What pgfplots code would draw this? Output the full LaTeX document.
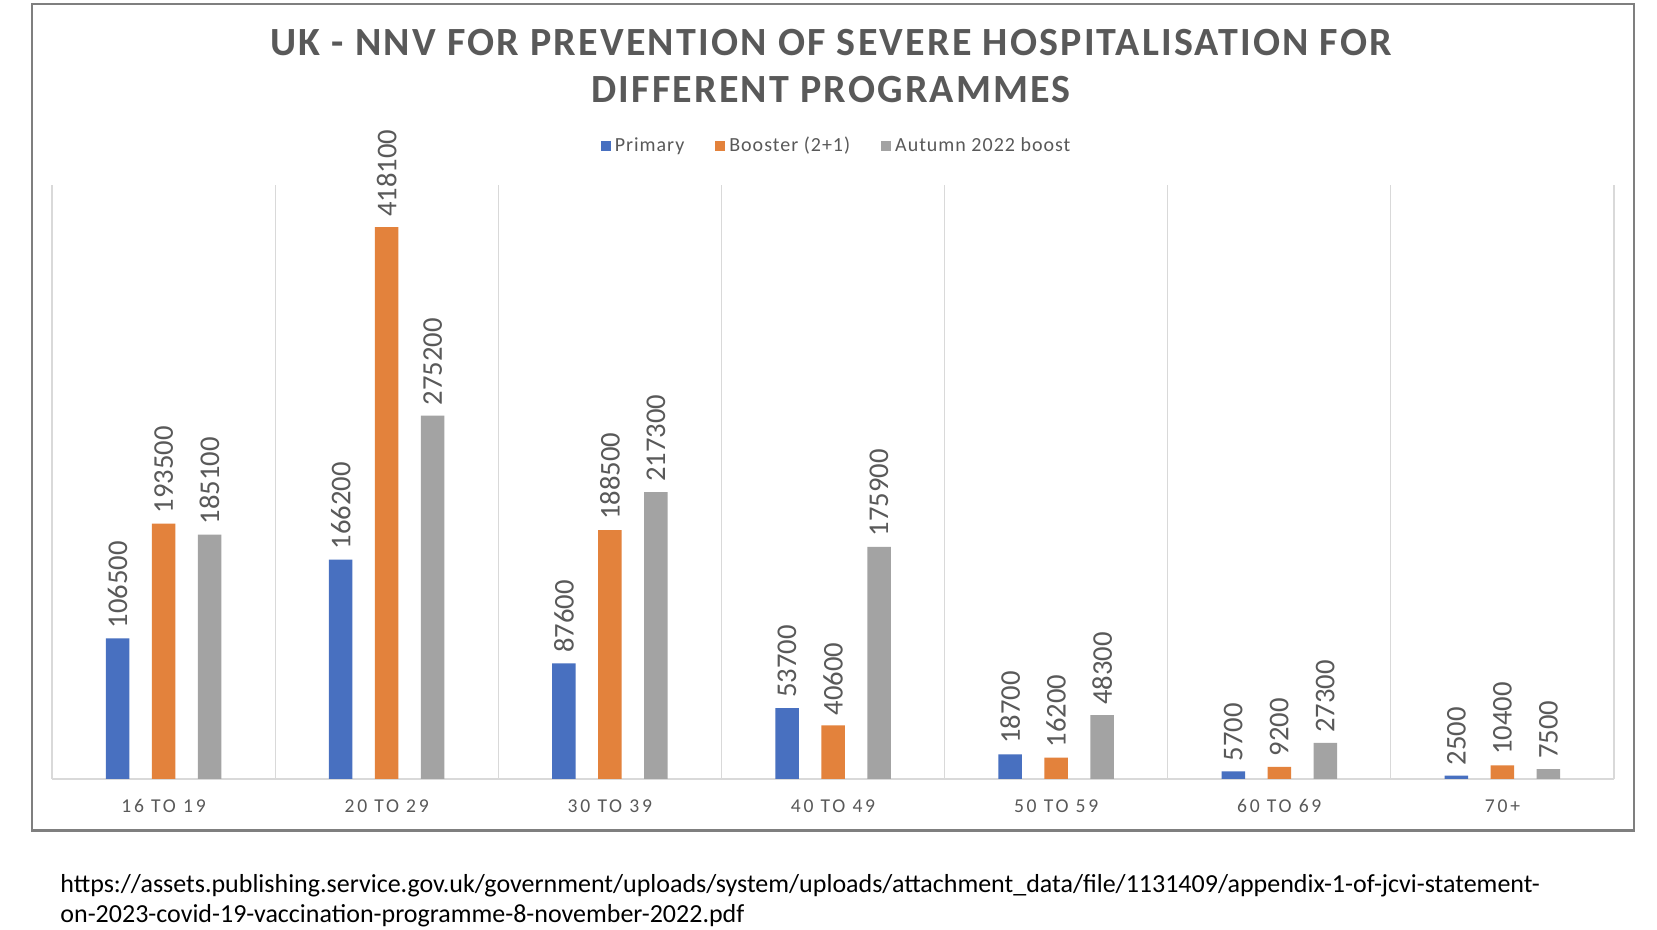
\documentclass[border=0pt]{standalone}
\usepackage{fontspec}
\setmainfont{Carlito}
\usepackage{pgfplots}
\usepackage{pgfplotstable}
\pgfplotsset{compat=1.18}
\newfontfamily\titlefont[LetterSpace=5.5]{Carlito}
\newfontfamily\tickfont[LetterSpace=14]{Carlito}
\newfontfamily\legfont[LetterSpace=5]{Carlito}
\definecolor{cblue}{HTML}{4870C0}
\definecolor{corange}{HTML}{E3823C}
\definecolor{cgray}{HTML}{A3A3A3}
\definecolor{txt}{HTML}{595959}
\definecolor{gridc}{HTML}{D9D9D9}
\definecolor{framec}{HTML}{7F7F7F}

\pgfplotstableread{
x P B A
0 106500 193500 185100
1 166200 418100 275200
2 87600 188500 217300
3 53700 40600 175900
4 18700 16200 48300
5 5700 9200 27300
6 2500 10400 7500
}\data

\begin{document}
\begin{tikzpicture}
\path[use as bounding box] (0,0) rectangle (828.5pt,465pt);
\fill[white] (0,0) rectangle (828.5pt,465pt);
\draw[line width=1.1pt, framec] (16pt,49.75pt) rectangle (817pt,463pt);
\node[font=\titlefont\bfseries\fontsize{20}{24}\selectfont, text=txt] at (415.5pt,443.9pt) {UK - NNV FOR PREVENTION OF SEVERE HOSPITALISATION FOR};
\node[font=\titlefont\bfseries\fontsize{20}{24}\selectfont, text=txt] at (415.5pt,420.1pt) {DIFFERENT PROGRAMMES};
\begin{axis}[
  at={(26pt,75.5pt)}, anchor=south west,
  scale only axis, width=781pt, height=297pt,
  xmin=-0.5, xmax=6.5, ymin=0, ymax=450000,
  ybar=11.25pt, bar width=11.75pt,
  axis y line=none, axis x line*=bottom,
  x axis line style={draw=gridc, line width=0.8pt, -},
  xtick={0,...,6},
  xticklabels={16 TO 19,20 TO 29,30 TO 39,40 TO 49,50 TO 59,60 TO 69,70+},
  major tick length=0pt, minor tick length=0pt,
  minor xtick={-0.5,0.5,1.5,2.5,3.5,4.5,5.5,6.5},
  xminorgrids, minor grid style={draw=gridc, line width=0.6pt},
  xticklabel style={font=\tickfont\fontsize{9.8}{11}\selectfont, text=txt, anchor=center, yshift=-13.5pt},
  clip=false,
  nodes near coords, point meta=explicit symbolic,
  every node near coord/.append style={rotate=90, anchor=west, font=\fontsize{14.3}{16}\selectfont, text=txt, inner sep=5pt},
  legend style={at={(0.5,1.0655)}, anchor=center, xshift=2.3pt, draw=none, fill=none,
    legend columns=-1, font=\legfont\fontsize{10}{12}\selectfont, text=txt,
    /tikz/every even column/.append style={column sep=13.5pt},
    legend cell align=left},
  legend image code/.code={\fill[#1] (-2pt,-2.5pt) rectangle (3pt,2.5pt);},
]
\addplot[fill=cblue, draw=none] table[x=x, y=P, meta=P] {\data};
\addplot[fill=corange, draw=none] table[x=x, y=B, meta=B] {\data};
\addplot[fill=cgray, draw=none] table[x=x, y=A, meta=A] {\data};
\legend{Primary, Booster (2+1), Autumn 2022 boost}
\end{axis}
\node[anchor=base west, inner sep=0pt, font=\fontsize{13}{15}\selectfont, text=black] at (30pt,18.5pt) {https://assets.publishing.service.gov.uk/government/uploads/system/uploads/attachment\_data/file/1131409/appendix-1-of-jcvi-statement-};
\node[anchor=base west, inner sep=0pt, font=\fontsize{13}{15}\selectfont, text=black] at (30pt,3.5pt) {on-2023-covid-19-vaccination-programme-8-november-2022.pdf};
\end{tikzpicture}
\end{document}
